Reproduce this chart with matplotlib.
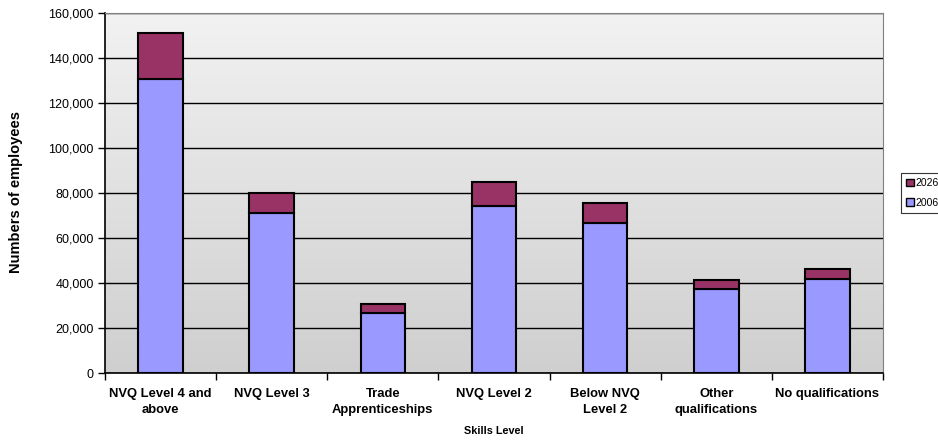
import numpy as np
import matplotlib.pyplot as plt
from matplotlib.colors import LinearSegmentedColormap
from matplotlib.patches import Patch
from matplotlib.ticker import FuncFormatter

plt.rcParams['font.family'] = ['Liberation Sans', 'DejaVu Sans']

categories = ['NVQ Level 4 and\nabove', 'NVQ Level 3', 'Trade\nApprenticeships', 'NVQ Level 2',
              'Below NVQ\nLevel 2', 'Other\nqualifications', 'No qualifications']
emp_2006 = [130700, 71000, 26800, 74400, 66800, 37300, 41900]
extra_2026 = [20300, 9000, 3700, 10400, 8600, 4000, 4400]

col_2006 = '#9999ff'
col_2026 = '#993366'

fig = plt.figure(figsize=(9.38, 4.41), dpi=100)
ax = fig.add_axes([105 / 938, 1 - 373 / 441, 778 / 938, 360 / 441])

x = np.arange(len(categories))
ax.set_xlim(-0.5, len(categories) - 0.5)
ax.set_ylim(0, 160000)

# vertical grey gradient behind the bars
grad = np.linspace(0, 1, 256).reshape(-1, 1)
bg = LinearSegmentedColormap.from_list('bg', ['#cfcfcf', '#f2f2f2'])
ax.imshow(grad, cmap=bg, extent=[-0.5, len(categories) - 0.5, 0, 160000],
          origin='lower', aspect='auto', zorder=0)

ax.set_yticks(np.arange(0, 160001, 20000))
ax.yaxis.set_major_formatter(FuncFormatter(lambda v, p: f'{int(v):,}'))
ax.grid(axis='y', color='black', linewidth=1, zorder=1)
ax.set_axisbelow(True)

ax.bar(x, emp_2006, width=0.4, color=col_2006, edgecolor='black', linewidth=1.5, zorder=3)
ax.bar(x, extra_2026, width=0.4, bottom=emp_2006, color=col_2026, edgecolor='black', linewidth=1.5, zorder=3)

ax.set_xticks(x)
ax.set_xticklabels(categories, fontsize=9.4, fontweight='bold', linespacing=1.45)
ax.tick_params(axis='x', length=0, pad=11)
ax.set_xticks(np.arange(-0.5, len(categories), 1), minor=True)
ax.tick_params(axis='x', which='minor', length=5, width=1, direction='out')
ax.tick_params(axis='y', labelsize=9, length=5, width=1, direction='out', pad=3)

for s in ['top', 'right']:
    ax.spines[s].set_color('#808080')
for s in ['left', 'bottom']:
    ax.spines[s].set_color('black')
    ax.spines[s].set_linewidth(1.2)

ax.set_xlabel('Skills Level', fontsize=7.8, fontweight='bold', labelpad=7)
fig.text(16 / 938, 1 - 192 / 441, 'Numbers of employees', rotation=90, fontsize=10.5, fontweight='bold',
         ha='center', va='center')

handles = [Patch(facecolor=col_2026, edgecolor='black'), Patch(facecolor=col_2006, edgecolor='black')]
leg = fig.legend(handles, ['2026', '2006'], loc='upper left', bbox_to_anchor=(901 / 938, 1 - 173 / 441),
                 fontsize=7.5, frameon=True, fancybox=False, edgecolor='black', handlelength=0.7,
                 handleheight=0.7, handletextpad=0.2, borderpad=0.5, labelspacing=0.9, borderaxespad=0)
leg.get_frame().set_linewidth(0.8)

fig.savefig('out.png', dpi=100)
